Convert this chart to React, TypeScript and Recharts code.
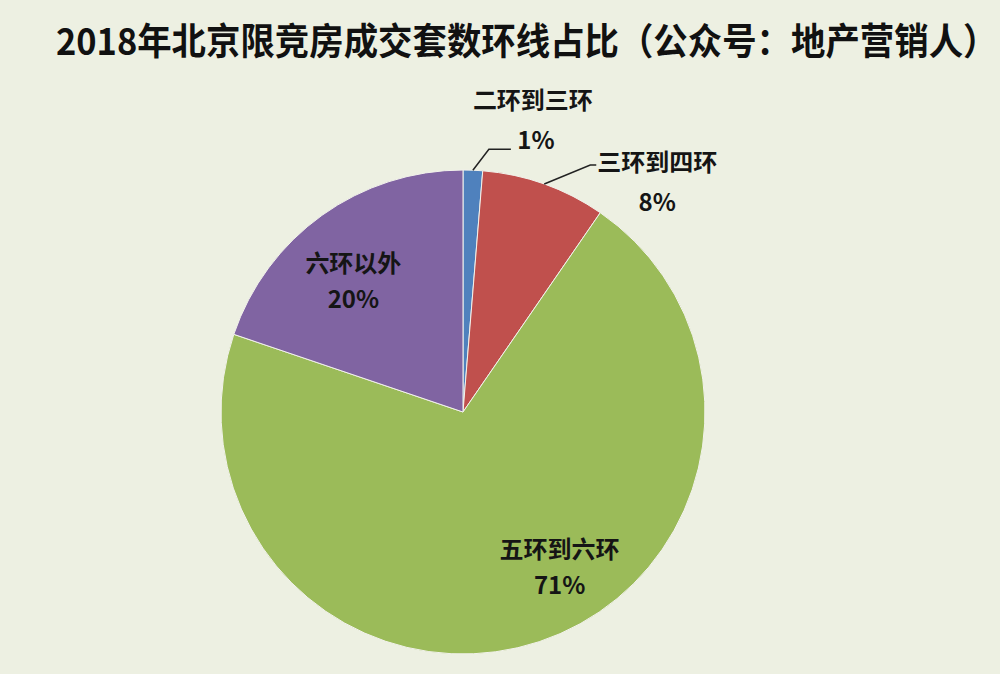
import React from 'react';
import { PieChart, Pie, Cell } from 'recharts';

const categories = ['二环到三环', '三环到四环', '五环到六环', '六环以外'];
const shares = [1.3, 8.3, 70.6, 19.8];
const sliceColors = ['#4F81BD', '#C0504D', '#9BBB59', '#8064A2'];

const chartData = categories.map((name, i) => ({ name, value: shares[i] }));

const RAD = Math.PI / 180;
const FONT = '"Noto Sans CJK SC", "Noto Sans", sans-serif';

// label placement: outside ones get a leader line, inside ones sit in the slice
const outsideLayout: Record<number, any> = {
  0: { ex: 16, ey: -21, hx: 22, nameDx: 22, nameDy: -51, pctDx: 25, pctDy: -11 },
  1: { ex: 46, ey: -19, hx: 6, nameDx: 61, nameDy: -5, pctDx: 61, pctDy: 35 },
};
const insideLayout: Record<number, any> = {
  2: { shift: 13.8, factor: 0.75 },
  3: { shift: 4, factor: 0.71 },
};

const renderLabel = (props: any) => {
  const { cx, cy, midAngle, outerRadius, index, value, name } = props;
  const pct = `${Math.round(value)}%`;
  const textStyle = { fontFamily: FONT, fontWeight: 700, fontSize: 24, fill: '#151515' };

  if (outsideLayout[index]) {
    const o = outsideLayout[index];
    const sx = cx + outerRadius * Math.cos(-midAngle * RAD);
    const sy = cy + outerRadius * Math.sin(-midAngle * RAD);
    const mx = sx + o.ex;
    const my = sy + o.ey;
    const hx = mx + o.hx;
    return (
      <g>
        <path d={`M${sx},${sy}L${mx},${my}L${hx},${my}`} stroke="#222" strokeWidth={1.5} fill="none" />
        <text x={hx + o.nameDx} y={my + o.nameDy} textAnchor="middle" dominantBaseline="central" style={textStyle}>
          {name}
        </text>
        <text x={hx + o.pctDx} y={my + o.pctDy} textAnchor="middle" dominantBaseline="central" style={textStyle}>
          {pct}
        </text>
      </g>
    );
  }

  const l = insideLayout[index];
  const a = (midAngle + l.shift) * RAD;
  const r = outerRadius * l.factor;
  const x = cx + r * Math.cos(-a);
  const y = cy + r * Math.sin(-a);
  return (
    <g>
      <text x={x} y={y - 18} textAnchor="middle" dominantBaseline="central" style={textStyle}>
        {name}
      </text>
      <text x={x} y={y + 18} textAnchor="middle" dominantBaseline="central" style={textStyle}>
        {pct}
      </text>
    </g>
  );
};

export default function App() {
  return (
    <div
      style={{
        position: 'fixed',
        top: 0,
        left: 0,
        width: 1000,
        height: 674,
        background: '#EDF0E2',
        overflow: 'hidden',
      }}
    >
      <div
        style={{
          position: 'absolute',
          top: 16,
          left: 21,
          width: 1000,
          textAlign: 'center',
          fontFamily: FONT,
          fontWeight: 700,
          fontSize: 37,
          lineHeight: '46px',
          color: '#111',
          transform: 'scaleX(0.93)',
          transformOrigin: '500px 0',
          whiteSpace: 'nowrap',
        }}
      >
        2018年北京限竞房成交套数环线占比（公众号：地产营销人）
      </div>
      <PieChart
        width={1000}
        height={674}
        margin={{ top: 0, right: 0, bottom: 0, left: 0 }}
        style={{ position: 'absolute', top: 0, left: 0 }}
      >
        <Pie
          data={chartData}
          dataKey="value"
          nameKey="name"
          cx={463}
          cy={412}
          outerRadius={242}
          startAngle={90}
          endAngle={-270}
          stroke="#F2F2EC"
          strokeWidth={1}
          label={renderLabel}
          labelLine={false}
          isAnimationActive={false}
        >
          {chartData.map((entry, i) => (
            <Cell key={entry.name} fill={sliceColors[i]} />
          ))}
        </Pie>
      </PieChart>
    </div>
  );
}
